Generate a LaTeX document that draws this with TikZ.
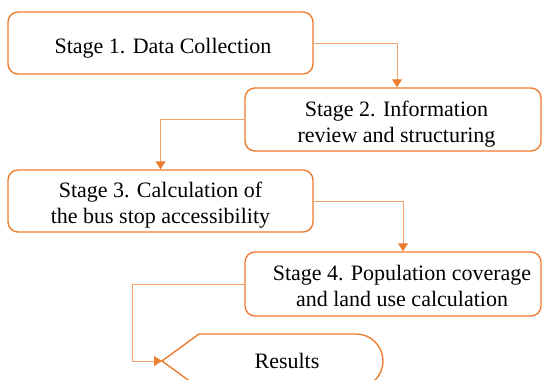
\documentclass[tikz,border=0pt]{standalone}
\usepackage{fontspec}
\setmainfont{Liberation Serif}
\usetikzlibrary{arrows.meta,calc}
\definecolor{boxor}{HTML}{ED7D31}
\definecolor{lineor}{HTML}{F3A36C}
\begin{document}
\begin{tikzpicture}[x=1pt,y=-1pt,
  stagebox/.style={draw=boxor,line width=1.4pt,rounded corners=10pt,inner sep=0pt},
  stagetext/.style={font=\fontsize{22}{26.5}\selectfont,align=center,text=black,inner sep=0pt},
  conn/.style={draw=lineor,line width=1pt,-{Triangle[width=10pt,length=8pt,color=boxor]}}]
\path[use as bounding box] (0,0) rectangle (542,380);
\clip (0,0) rectangle (542,380);
% boxes
\node[stagebox,minimum width=305pt,minimum height=62pt] (box1) at (160.5,43) {};
\node[stagebox,minimum width=296pt,minimum height=63pt] (box2) at (393,119.5) {};
\node[stagebox,minimum width=305pt,minimum height=62pt] (box3) at (160.5,201) {};
\node[stagebox,minimum width=296pt,minimum height=64pt] (box4) at (393,284) {};
% texts
\node[stagetext] (t1) at (163,48) {Stage 1. Data Collection};
\node[stagetext] (t2) at (396.5,124) {Stage 2. Information\\review and structuring};
\node[stagetext] (t3) at (160.5,205) {Stage 3. Calculation of\\the bus stop accessibility};
\node[stagetext] (t4) at (402,286) {Stage 4. Population coverage\\and land use calculation};
% results display shape
\coordinate (rtip) at (162,361);
\draw[draw=boxor,line width=1.4pt] (rtip) -- (199,334) -- (356,334)
  arc[start angle=-90,end angle=90,radius=27] -- (199,388) -- cycle;
\node[stagetext] (t5) at (287,361) {Results};
% connectors
\draw[conn] (box1.east) -| ($(box2.north)+(4,0)$);
\draw[conn] (box2.west) -| (box3.north);
\draw[conn] (box3.east) -| ($(box4.north)+(10,0)$);
\draw[conn] (box4.west) -- ++(-112,0) |- (rtip);
\end{tikzpicture}
\end{document}
